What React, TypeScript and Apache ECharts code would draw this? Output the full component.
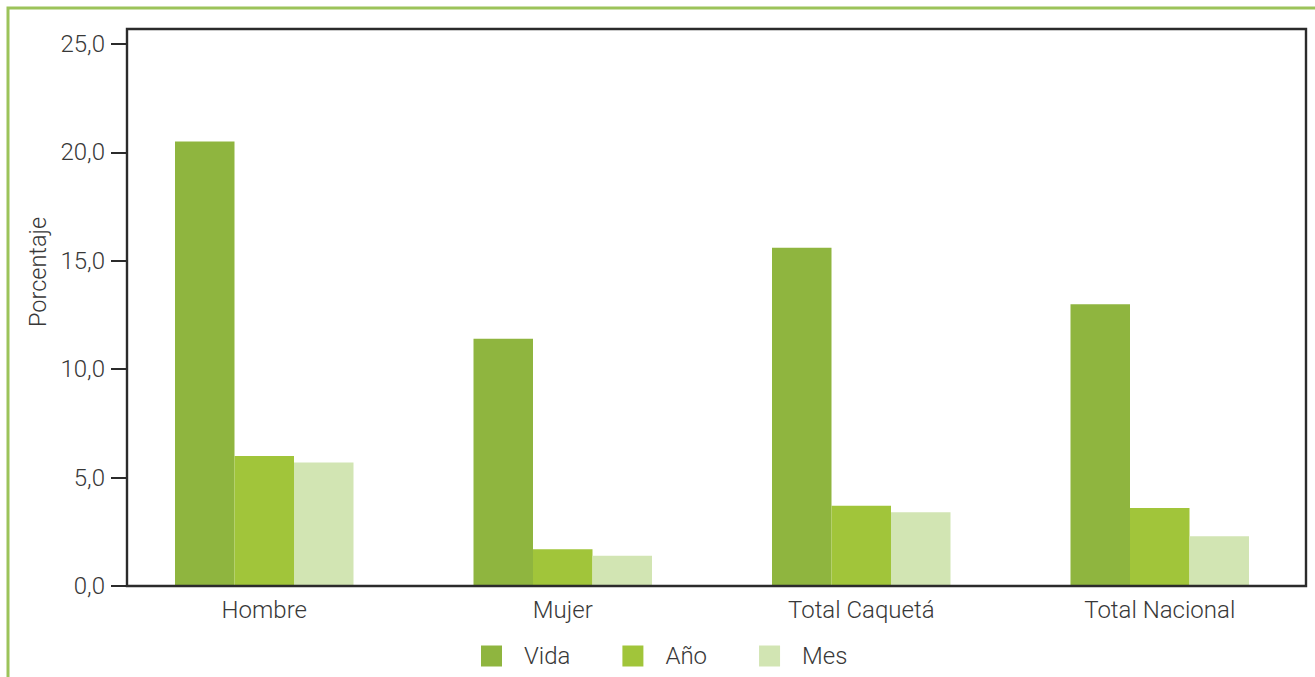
import React, { useEffect, useRef } from "react";
import * as echarts from "echarts";

const categories = ["Hombre", "Mujer", "Total Caquetá", "Total Nacional"];
const vida = [20.5, 11.4, 15.6, 13.0];
const anio = [6.0, 1.7, 3.7, 3.6];
const mes = [5.7, 1.4, 3.4, 2.3];
const seriesNames = ["Vida", "Año", "Mes"];
const colors = ["#8fb53f", "#a1c53a", "#d2e5b3"];

const FONT = "Roboto, 'Noto Sans', sans-serif";
const TEXT = "#383838";

export default function App() {
  const ref = useRef<HTMLDivElement>(null);
  useEffect(() => {
    if (!ref.current) return;
    const chart = echarts.init(ref.current, null, { renderer: "svg" });
    const mk = (name: string, data: number[], color: string) => ({
      name,
      type: "bar",
      data,
      barWidth: 59.5,
      barGap: "0%",
      itemStyle: { color },
    });
    chart.setOption({
      animation: false,
      backgroundColor: "#ffffff",
      grid: { left: 115, right: 6, top: 44, bottom: 91, containLabel: false },
      xAxis: {
        type: "category",
        data: categories,
        axisLine: { show: false },
        axisTick: { show: false },
        axisLabel: {
          margin: 12,
          fontSize: 24,
          fontFamily: FONT,
          fontWeight: 300,
          color: TEXT,
        },
      },
      yAxis: {
        type: "value",
        min: 0,
        max: 25,
        interval: 5,
        offset: -12,
        splitLine: { show: false },
        axisLine: { show: true, lineStyle: { color: "#2b2b2b", width: 2 } },
        axisTick: { show: true, length: 16, lineStyle: { color: "#2b2b2b", width: 2 } },
        axisLabel: {
          margin: 22,
          fontSize: 24,
          fontFamily: FONT,
          fontWeight: 300,
          color: TEXT,
          formatter: (v: number) => v.toFixed(1).replace(".", ","),
        },
      },
      legend: {
        data: seriesNames,
        left: 481,
        top: 644,
        padding: 0,
        itemWidth: 21,
        itemHeight: 21,
        itemGap: 52,
        icon: "rect",
        textStyle: {
          fontSize: 24,
          fontFamily: FONT,
          fontWeight: 300,
          color: TEXT,
          padding: [0, 0, 0, 17],
        },
      },
      graphic: [
        {
          type: "rect",
          shape: { x: 8, y: 8, width: 1330, height: 700 },
          style: { fill: "none", stroke: "#9cc35a", lineWidth: 3 },
          silent: true,
        },
        {
          type: "rect",
          shape: { x: 127, y: 29, width: 1179, height: 557 },
          style: { fill: "none", stroke: "#2b2b2b", lineWidth: 2.4 },
          silent: true,
          z: 100,
        },
        {
          type: "text",
          x: 38,
          y: 272,
          rotation: Math.PI / 2,
          style: {
            text: "Porcentaje",
            fontSize: 23.5,
            fontFamily: FONT,
            fontWeight: 300,
            fill: TEXT,
            align: "center",
            verticalAlign: "middle",
          },
        },
      ],
      series: [
        mk(seriesNames[0], vida, colors[0]),
        mk(seriesNames[1], anio, colors[1]),
        mk(seriesNames[2], mes, colors[2]),
      ],
    });
    return () => chart.dispose();
  }, []);
  return (
    <div
      ref={ref}
      style={{ position: "absolute", left: 0, top: 0, width: 1315, height: 677 }}
    />
  );
}
